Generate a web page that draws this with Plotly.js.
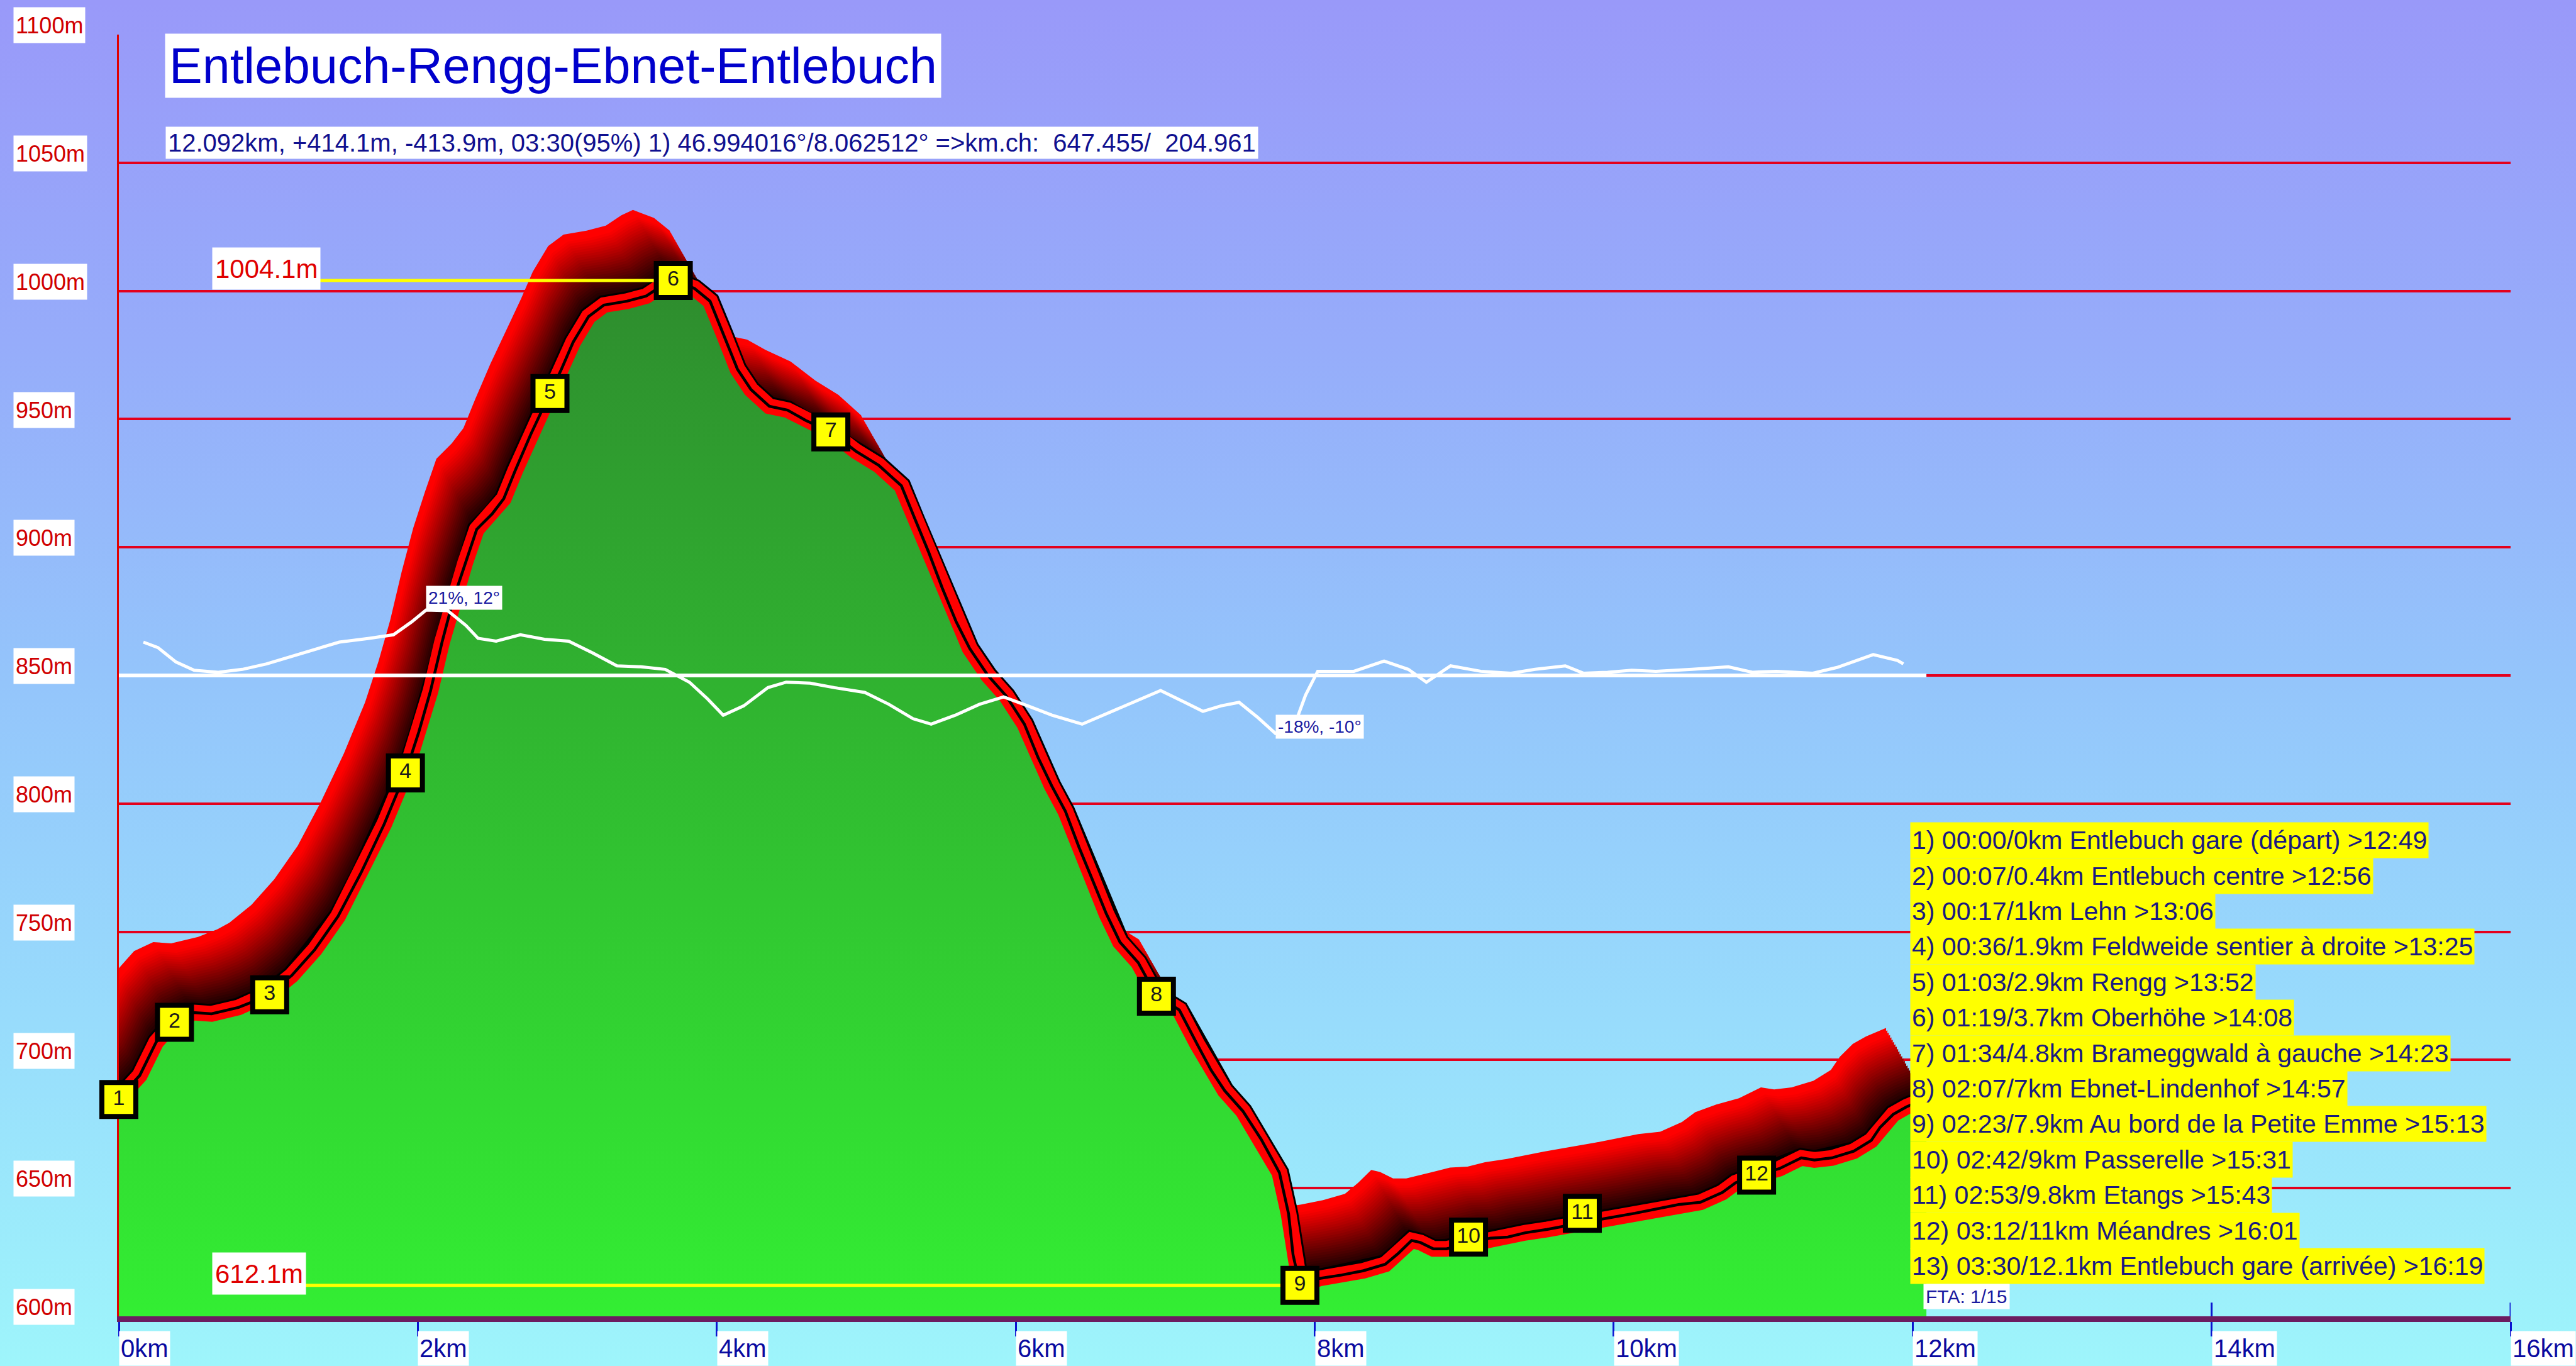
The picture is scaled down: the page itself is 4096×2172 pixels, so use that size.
<!DOCTYPE html>
<html><head><meta charset="utf-8">
<script src="https://cdn.plot.ly/plotly-3.0.1.min.js"></script>
<style>
html,body{margin:0;padding:0;width:4096px;height:2172px;overflow:hidden;
background:linear-gradient(to bottom,#9999f9 0%,#96acfa 25%,#94c5fb 50%,#98dcfc 75%,#9ef5fb 100%);}
#chart{width:4096px;height:2172px;}
</style></head><body><div id="chart"></div>
<script>
// ---------------- DATA ----------------
const PROFILE_KM = [0.000,0.140,0.250,0.372,0.500,0.620,0.800,0.930,1.009,1.157,1.310,1.466,1.620,1.775,1.917,2.007,2.085,2.162,2.239,2.317,2.394,2.497,2.575,2.652,2.755,2.884,2.961,3.039,3.142,3.245,3.399,3.528,3.632,3.709,3.850,3.955,4.047,4.138,4.229,4.351,4.473,4.595,4.763,4.930,5.083,5.235,5.326,5.418,5.509,5.601,5.692,5.814,5.936,6.058,6.149,6.240,6.332,6.423,6.515,6.606,6.697,6.819,6.941,7.094,7.215,7.307,7.398,7.520,7.642,7.764,7.825,7.855,7.901,8.033,8.179,8.326,8.472,8.560,8.648,8.707,8.794,8.882,9.029,9.175,9.292,9.409,9.556,9.702,9.805,9.937,10.142,10.288,10.435,10.581,10.727,10.815,10.956,11.108,11.255,11.343,11.460,11.606,11.723,11.782,11.870,11.958,12.092];
const PROFILE_ELEV = [685,694,707,715,718.5,718,720.5,723.5,726,733,743,756,773,792,812,828,844,863,880,894,907,913,919,930,944,960,969.5,980,990,994.5,996,998,1002,1004.1,1001,996,983,969.5,961.5,955,953.5,949.5,945,937.5,932,924,911,898,884,871,860.5,850,842,831,818,807,797,783,770,757,746,738,725,719.5,706,696,688,680,669,656,640,624,612.1,614.8,616.1,617.8,620.3,624.6,629.6,628.8,626.3,626.3,628.4,630.5,630.9,632.6,633.9,635.6,636.8,638.1,640.2,641.9,643.6,644.5,648.3,652.1,655.1,657.6,661.8,661.0,661.8,664.4,668.6,673.7,678.8,681.7,685];

const SLOPE_KM  = [0.164,0.261,0.382,0.504,0.665,0.826,0.988,1.231,1.474,1.675,1.837,1.958,2.055,2.200,2.322,2.403,2.524,2.686,2.847,3.009,3.170,3.332,3.494,3.655,3.817,3.938,4.043,4.180,4.342,4.464,4.625,4.787,4.990,5.151,5.313,5.434,5.596,5.757,5.919,6.081,6.242,6.444,6.646,6.808,6.969,7.131,7.252,7.373,7.494,7.616,7.737,7.858,7.939,8.020,8.262,8.464,8.626,8.747,8.909,9.111,9.313,9.474,9.676,9.797,9.959,10.121,10.282,10.524,10.767,10.928,11.090,11.332,11.494,11.736,11.898,11.938];
const SLOPE_PCT = [10.4,8.7,4.2,1.6,1.0,1.9,3.6,7.0,10.4,11.6,12.7,16.7,20.4,20.2,15.6,11.6,10.7,12.7,11.3,10.7,7.0,3.0,2.7,1.9,-2.1,-7.3,-12.4,-9.5,-3.8,-2.1,-2.4,-3.8,-5.3,-9.0,-13.5,-15.2,-12.4,-9.0,-6.7,-9.5,-12.4,-15.2,-11.2,-7.8,-4.7,-8.4,-11.2,-9.5,-8.4,-13.0,-18.1,-16.4,-6.1,1.3,1.3,4.5,1.9,-2.1,3.0,1.3,0.7,1.9,3.0,0.7,1.0,1.6,1.3,1.9,2.7,1.0,1.3,0.7,2.5,6.5,4.7,3.6];

const WAYPOINT_NUM  = ['1','2','3','4','5','6','7','8','9','10','11','12','13'];
const WAYPOINT_KM   = [0,0.372,1.009,1.917,2.884,3.709,4.763,6.941,7.901,9.029,9.79,10.956,12.092];
const WAYPOINT_ELEV = [684.6,714.7,725.4,812,960,1004.1,945,724.9,612.1,630.9,640.2,655.1,685];
const WAYPOINT_LINES = [
 '1) 00:00/0km Entlebuch gare (départ) >12:49',
 '2) 00:07/0.4km Entlebuch centre >12:56',
 '3) 00:17/1km Lehn >13:06',
 '4) 00:36/1.9km Feldweide sentier à droite >13:25',
 '5) 01:03/2.9km Rengg >13:52',
 '6) 01:19/3.7km Oberhöhe >14:08',
 '7) 01:34/4.8km Brameggwald à gauche >14:23',
 '8) 02:07/7km Ebnet-Lindenhof >14:57',
 '9) 02:23/7.9km Au bord de la Petite Emme >15:13',
 '10) 02:42/9km Passerelle >15:31',
 '11) 02:53/9.8km Etangs >15:43',
 '12) 03:12/11km Méandres >16:01',
 '13) 03:30/12.1km Entlebuch gare (arrivée) >16:19'
];

const Y_TICKS = [600,650,700,750,800,850,900,950,1000,1050,1100];
const Y_TICK_LABELS = ['600m','650m','700m','750m','800m','850m','900m','950m','1000m','1050m','1100m'];
const X_TICKS = [0,2,4,6,8,10,12,14,16];
const X_TICK_LABELS = ['0km','2km','4km','6km','8km','10km','12km','14km','16km'];

const TITLE = 'Entlebuch-Rengg-Ebnet-Entlebuch';
const SUBTITLE = '12.092km, +414.1m, -413.9m, 03:30(95%) 1) 46.994016°/8.062512° =>km.ch:\u00a0 647.455/\u00a0 204.961';
const MAX_LABEL = '1004.1m';
const MIN_LABEL = '612.1m';
const SLOPE_MAX_LABEL = '21%, 12°';
const SLOPE_MIN_LABEL = '-18%, -10°';
const FOOTNOTE = 'FTA: 1/15';

// ---------------- LAYOUT HELPERS ----------------
const S = 4096/4691;                       // reference -> window scale
const Y_RANGE = [600,1100], X_RANGE = [0,16], SLOPE_RANGE = [-200,200];
const M = {l: 217*S, r: 4096-4572*S, t: 63*S, b: 2172-2397*S, pad:0};
const PW = 4096-M.l-M.r, PH = 2172-M.t-M.b;
const pxX = v => (v*S - M.l)/PW;           // reference px -> paper x
const pxY = v => 1 - (v*S - M.t)/PH;       // reference px -> paper y
const kmAt = v => X_RANGE[0] + (v*S - M.l)/PW*(X_RANGE[1]-X_RANGE[0]);

const COMIC  = '"Liberation Sans", Arial, sans-serif';
const NARROW = '"Liberation Sans", Arial, sans-serif';

const traces = [];

// upper tick stubs (hidden behind the profile where it exists)
const tickUp = 25/4.668;
const tx = [], ty = [];
X_TICKS.forEach(k => { tx.push(k,k,null); ty.push(Y_RANGE[0], Y_RANGE[0]+tickUp, null); });
traces.push({x:tx, y:ty, mode:'lines', line:{color:'#0a14d0', width:3}, hoverinfo:'skip', showlegend:false});

// 3D ribbon shadow of the profile
const NB = 30, SDX = 0.27, SDY = 27.5;
for (let k = NB; k >= 1; k--) {
  const t = k/NB;
  const r = Math.round(255*Math.min(1, Math.pow(t*1.08,1.1)));
  const c = `rgb(${r},0,0)`;
  traces.push({x:PROFILE_KM.map(v => v - t*SDX), y:PROFILE_ELEV.map(v => v + t*SDY),
    mode:'lines', line:{width:0, color:c}, fill:'tozeroy', fillcolor:c, hoverinfo:'skip', showlegend:false});
}
// black underlay of the profile stroke
traces.push({x:PROFILE_KM, y:PROFILE_ELEV, mode:'lines', line:{color:'#000', width:31}, hoverinfo:'skip', showlegend:false});
// green terrain
const maxElev = Math.max(...PROFILE_ELEV), minElev = Math.min(...PROFILE_ELEV);
traces.push({x:PROFILE_KM, y:PROFILE_ELEV, mode:'lines', line:{width:0, color:'#33cc33'}, fill:'tozeroy', fillcolor:'#33cc33',
  fillgradient:{type:'vertical', start:Y_RANGE[0], stop:maxElev, colorscale:[[0,'#33ee33'],[1,'#2e8c2e']]},
  hoverinfo:'skip', showlegend:false});
// profile stroke
traces.push({x:PROFILE_KM, y:PROFILE_ELEV, mode:'lines', line:{color:'#ff0000', width:25}, hoverinfo:'skip', showlegend:false});
traces.push({x:PROFILE_KM, y:PROFILE_ELEV, mode:'lines', line:{color:'#000000', width:4.5}, hoverinfo:'skip', showlegend:false});

// max / min reference lines
const iMax = PROFILE_ELEV.indexOf(maxElev), iMin = PROFILE_ELEV.indexOf(minElev);
const labelKm = kmAt(400);
traces.push({x:[labelKm, PROFILE_KM[iMax]], y:[maxElev,maxElev], mode:'lines', line:{color:'#ffff00', width:5}, hoverinfo:'skip', showlegend:false});
traces.push({x:[labelKm, PROFILE_KM[iMin]], y:[minElev,minElev], mode:'lines', line:{color:'#ffff00', width:5}, hoverinfo:'skip', showlegend:false});

// waypoint markers (the last one lies under the waypoint list, as in the reference)
const NV = WAYPOINT_KM.length - 1;
traces.push({x:WAYPOINT_KM.slice(0,NV), y:WAYPOINT_ELEV.slice(0,NV), mode:'markers+text', text:WAYPOINT_NUM.slice(0,NV), textposition:'middle center',
  textfont:{family:NARROW, size:34, color:'#1a1a1a'}, cliponaxis:false,
  marker:{symbol:'square', size:54, color:'#ffff00', line:{color:'#000', width:8}}, hoverinfo:'skip', showlegend:false});

// slope curve (own axis, zero at 850 m)
const totalKm = PROFILE_KM[PROFILE_KM.length-1];
traces.push({x:[0,totalKm], y:[0,0], yaxis:'y2', mode:'lines', line:{color:'#ffffff', width:6}, hoverinfo:'skip', showlegend:false});
traces.push({x:SLOPE_KM, y:SLOPE_PCT, yaxis:'y2', mode:'lines', line:{color:'#ffffff', width:5}, hoverinfo:'skip', showlegend:false});

// ---------------- ANNOTATIONS ----------------
const ann = [];
ann.push({text:TITLE, xref:'paper', yref:'paper', x:pxX(301), y:pxY(61), xanchor:'left', yanchor:'top',
  showarrow:false, bgcolor:'#ffffff', borderpad:6, align:'left', font:{family:COMIC, size:79, color:'#0000cc'}});
ann.push({text:SUBTITLE, xref:'paper', yref:'paper', x:pxX(302), y:pxY(230), xanchor:'left', yanchor:'top',
  showarrow:false, bgcolor:'#ffffff', borderpad:3, align:'left', font:{family:COMIC, size:40, color:'#101090'}});

Y_TICKS.forEach((v,i) => ann.push({text:Y_TICK_LABELS[i], xref:'paper', yref:'y', x:pxX(25), y:v, yshift:17*S,
  xanchor:'left', yanchor:'middle', showarrow:false, bgcolor:'#ffffff', borderpad:3, height:50, valign:'middle',
  font:{family:NARROW, size:36, color:'#d00000'}}));
X_TICKS.forEach((v,i) => ann.push({text:X_TICK_LABELS[i], xref:'x', yref:'paper', x:v, y:pxY(2423),
  xanchor:'left', yanchor:'top', showarrow:false, bgcolor:'#ffffff', borderpad:2, height:50, valign:'middle',
  font:{family:NARROW, size:40, color:'#0a0aa0'}}));

ann.push({text:MAX_LABEL, xref:'paper', yref:'y', x:pxX(387), y:maxElev, yshift:19, xanchor:'left', yanchor:'middle',
  showarrow:false, bgcolor:'#ffffff', borderpad:4, height:58, valign:'middle', font:{family:NARROW, size:42, color:'#e00000'}});
ann.push({text:MIN_LABEL, xref:'paper', yref:'y', x:pxX(387), y:minElev, yshift:19, xanchor:'left', yanchor:'middle',
  showarrow:false, bgcolor:'#ffffff', borderpad:4, height:58, valign:'middle', font:{family:NARROW, size:42, color:'#e00000'}});

const sMax = Math.max(...SLOPE_PCT), sMin = Math.min(...SLOPE_PCT);
ann.push({text:SLOPE_MAX_LABEL, xref:'x', yref:'y2', x:SLOPE_KM[SLOPE_PCT.indexOf(sMax)], y:sMax, xanchor:'left', yanchor:'bottom',
  showarrow:false, bgcolor:'#ffffff', borderpad:3, font:{family:NARROW, size:28, color:'#1a1aa0'}});
ann.push({text:SLOPE_MIN_LABEL, xref:'x', yref:'y2', x:SLOPE_KM[SLOPE_PCT.indexOf(sMin)], y:sMin, yshift:30, xanchor:'left', yanchor:'top',
  showarrow:false, bgcolor:'#ffffff', borderpad:3, font:{family:NARROW, size:28, color:'#1a1aa0'}});

const LH = 64.6;
WAYPOINT_LINES.forEach((s,i) => ann.push({text:s, xref:'paper', yref:'paper', x:pxX(3478), y:pxY(1497 + i*LH),
  xanchor:'left', yanchor:'top', showarrow:false, bgcolor:'#ffff00', borderpad:2, height:LH*S-4, valign:'middle', align:'left',
  font:{family:COMIC, size:41, color:'#1a1a80'}}));

ann.push({text:FOOTNOTE, xref:'paper', yref:'paper', x:pxX(3502), y:pxY(2338), xanchor:'left', yanchor:'top',
  showarrow:false, bgcolor:'#ffffff', borderpad:3, font:{family:NARROW, size:30, color:'#1a1aa0'}});

const layout = {
  width:4096, height:2172, margin:M,
  paper_bgcolor:'rgba(0,0,0,0)', plot_bgcolor:'rgba(0,0,0,0)',
  showlegend:false,
  xaxis:{range:X_RANGE, tickvals:X_TICKS, ticks:'outside', ticklen:23, tickwidth:3, tickcolor:'#0a14d0',
    showticklabels:false, showgrid:false, zeroline:false, showline:true, linecolor:'#6c1c60', linewidth:9,
    fixedrange:true},
  yaxis:{range:Y_RANGE, tickvals:Y_TICKS, ticks:'', showticklabels:false, showgrid:true, gridcolor:'#e4001c', gridwidth:4,
    zeroline:false, showline:true, linecolor:'#e00000', linewidth:3, layer:'below traces', fixedrange:true},
  yaxis2:{range:SLOPE_RANGE, overlaying:'y', visible:false, fixedrange:true},
  annotations:ann
};
Plotly.newPlot('chart', traces, layout, {displayModeBar:false, staticPlot:true});
</script></body></html>
